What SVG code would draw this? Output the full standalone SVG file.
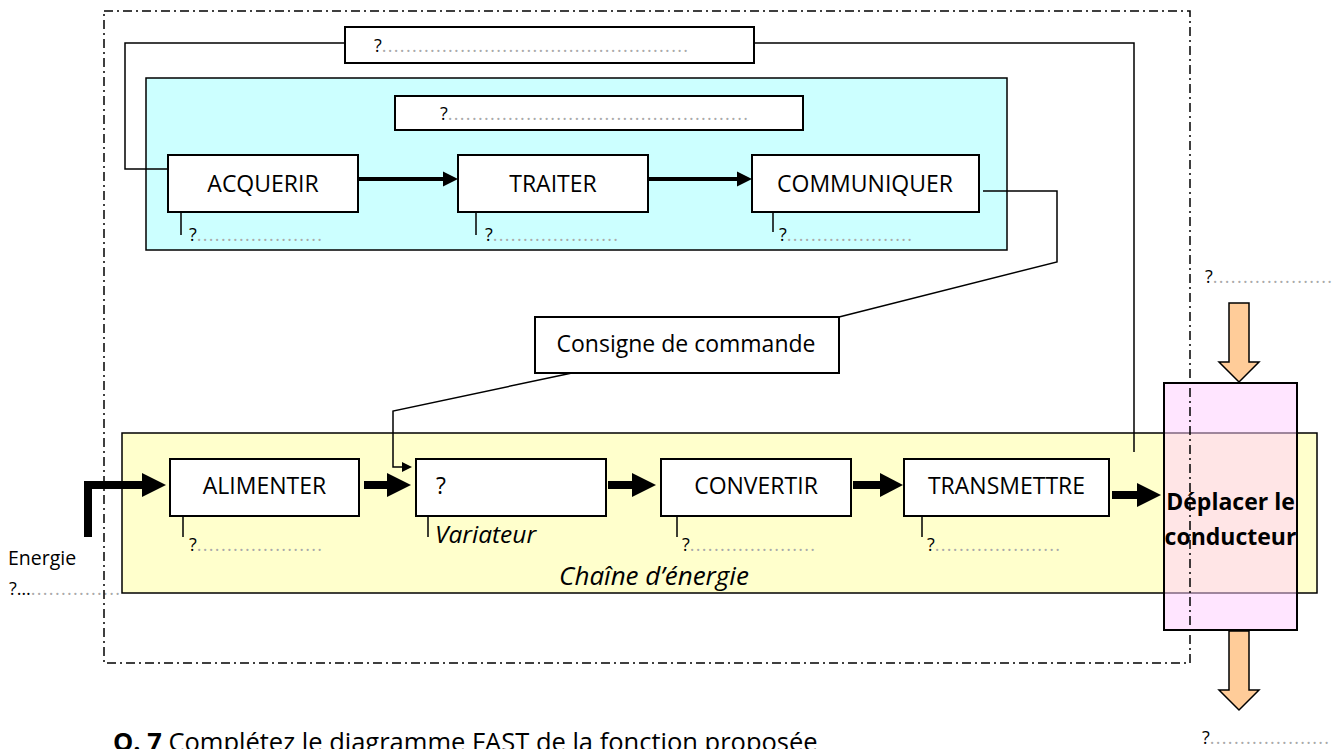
<svg xmlns="http://www.w3.org/2000/svg" width="1342" height="749" viewBox="0 0 1342 749">
<style>
.box{fill:#fff;stroke:#000;stroke-width:2}
.t{font-family:"Open Sans","Noto Sans",sans-serif;font-size:23px;fill:#000}
.q{font-family:"Open Sans","Noto Sans",sans-serif;font-size:18px;fill:#000}
.dots{fill:#aaa;letter-spacing:1.3px}
.ln{fill:none;stroke:#000;stroke-width:1.5}
.thin{fill:none;stroke:#000;stroke-width:4}
.thick{fill:none;stroke:#000;stroke-width:8}
.orange{fill:#FFCC99;stroke:#000;stroke-width:1.5}
</style>
<rect width="1342" height="749" fill="#fff"/>

<g id="commandChain">
<rect x="146" y="78" width="861" height="172" fill="#CCFFFF" stroke="#000" stroke-width="1.5"/>
</g>
<g id="energyChain">
<rect x="122" y="433" width="1195" height="160" fill="#FFFFCC" stroke="#000" stroke-width="1.5"/>
<text class="t" x="654" y="585" text-anchor="middle" style="font-style:italic;font-size:26px">Chaîne d’énergie</text>
</g>

<g id="connectors">
<path class="ln" d="M345 43H125V169H168"/>
<path class="ln" d="M754 43H1134V452"/>
<path class="ln" d="M983 191H1057V262L839 317"/>
<path class="ln" d="M572 373L393 411V467H403"/>
<polygon points="402,462 412,467 402,472" fill="#000"/>
<path class="thin" d="M358 179H443"/>
<polygon points="443,171.5 458,179 443,186.5" fill="#000"/>
<path class="thin" d="M648 179H737"/>
<polygon points="737,171.5 752,179 737,186.5" fill="#000"/>
<path class="thick" d="M88 537V485H143" stroke-linejoin="miter"/>
<polygon points="142,473 166,485 142,497" fill="#000"/>
<path class="thick" d="M364 485H388"/>
<polygon points="387,473 411,485 387,497" fill="#000"/>
<path class="thick" d="M608 485H633"/>
<polygon points="632,473 656,485 632,497" fill="#000"/>
<path class="thick" d="M853 485H881"/>
<polygon points="880,473 903,485 880,497" fill="#000"/>
<path class="thick" d="M1112 495H1138"/>
<polygon points="1137,483 1161,495 1137,507" fill="#000"/>
<path class="ln" d="M181 212V235M476 212V235M773 212V232M183 516V537M428 516V537M677 516V537M922 516V537"/>
</g>

<g id="topBox">
<rect class="box" x="345" y="27" width="409" height="36"/>
<text class="q" x="374" y="52">?<tspan class="dots">...................................................</tspan></text>
</g>
<g id="innerBox">
<rect class="box" x="395" y="96" width="408" height="34"/>
<text class="q" x="440" y="120">?<tspan class="dots">..................................................</tspan></text>
</g>
<g id="acquerir">
<rect class="box" x="168" y="155" width="190" height="57"/>
<text class="t" x="263" y="192" text-anchor="middle">ACQUERIR</text>
<text class="q" x="189" y="241">?<tspan class="dots">.....................</tspan></text>
</g>
<g id="traiter">
<rect class="box" x="458" y="155" width="190" height="57"/>
<text class="t" x="553" y="192" text-anchor="middle">TRAITER</text>
<text class="q" x="485" y="241">?<tspan class="dots">.....................</tspan></text>
</g>
<g id="communiquer">
<rect class="box" x="752" y="155" width="227" height="57"/>
<text class="t" x="865" y="192" text-anchor="middle">COMMUNIQUER</text>
<text class="q" x="779" y="241">?<tspan class="dots">.....................</tspan></text>
</g>
<g id="consigne">
<rect class="box" x="535" y="317" width="304" height="56"/>
<text class="t" x="686" y="352" text-anchor="middle">Consigne de commande</text>
</g>
<g id="alimenter">
<rect class="box" x="170" y="459" width="189" height="57"/>
<text class="t" x="264.5" y="494" text-anchor="middle">ALIMENTER</text>
<text class="q" x="189" y="551">?<tspan class="dots">.....................</tspan></text>
</g>
<g id="distribuer">
<rect class="box" x="416" y="459" width="190" height="57"/>
<text class="t" x="436" y="494">?</text>
<text class="t" x="435" y="543" style="font-style:italic;font-size:24.5px">Variateur</text>
</g>
<g id="convertir">
<rect class="box" x="661" y="459" width="190" height="57"/>
<text class="t" x="756" y="494" text-anchor="middle">CONVERTIR</text>
<text class="q" x="682" y="551">?<tspan class="dots">.....................</tspan></text>
</g>
<g id="transmettre">
<rect class="box" x="904" y="459" width="205" height="57"/>
<text class="t" x="1006.5" y="494" text-anchor="middle">TRANSMETTRE</text>
<text class="q" x="927" y="551">?<tspan class="dots">.....................</tspan></text>
</g>
<g id="energieIn">
<text class="q" x="8" y="565" style="font-size:19.5px">Energie</text>
<text class="q" x="9" y="595">?…<tspan class="dots">...............</tspan></text>
</g>
<g id="deplacer">
<rect x="1164" y="383" width="133" height="247" fill="#FFCCFF" fill-opacity="0.5" stroke="#000" stroke-width="2"/>
</g>

<rect x="104" y="11" width="1086" height="652" fill="none" stroke="#000" stroke-width="1.5" stroke-dasharray="9 4 2 4"/>

<g id="deplacerLabel">
<text class="t" x="1230.5" y="510" text-anchor="middle" font-weight="bold">Déplacer le</text>
<text class="t" x="1230.5" y="545" text-anchor="middle" font-weight="bold">conducteur</text>
</g>

<g id="inArrow">
<polygon class="orange" points="1229,303 1249,303 1249,362 1259,362 1239,382 1219,362 1229,362"/>
<text class="q" x="1205" y="283">?<tspan class="dots">....................</tspan></text>
</g>
<g id="outArrow">
<polygon class="orange" points="1229,631 1249,631 1249,690 1259,690 1239,710 1219,690 1229,690"/>
<text class="q" x="1202" y="744">?<tspan class="dots">....................</tspan></text>
</g>

<text class="t" x="113" y="751" style="font-size:25.5px"><tspan font-weight="bold">Q. 7</tspan> Complétez le diagramme FAST de la fonction proposée</text>
</svg>
